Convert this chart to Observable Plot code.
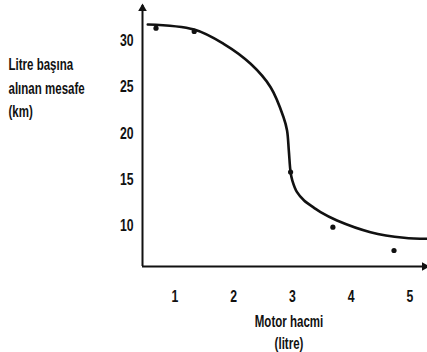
<!DOCTYPE html>
<html>
<head>
<meta charset="utf-8">
<script src="https://cdn.jsdelivr.net/npm/d3@7"></script>
<script src="https://cdn.jsdelivr.net/npm/@observablehq/plot@0.6"></script>
<style>
  html, body { margin: 0; padding: 0; background: #fff; }
  #chart svg { display: block; }
</style>
</head>
<body>
<div id="chart"></div>
<script>
// Fitted curve (engine size in litres vs km per litre)
const curveX = [0.54, 1.33, 1.83, 2.29, 2.63, 2.85, 2.91, 2.94, 2.97, 3.0, 3.08, 3.2, 3.37, 3.48, 3.76, 4.33, 4.9, 5.3];
const curveY = [31.75, 31.2, 29.66, 27.5, 24.97, 21.73, 20.3, 18.13, 15.79, 14.89, 13.63, 12.73, 11.94, 11.47, 10.57, 9.31, 8.7, 8.59];
// Observed points
const pointX = [0.68, 1.33, 2.97, 3.69, 4.73];
const pointY = [31.35, 31.0, 15.8, 9.85, 7.33];
// Ticks
const xTicks = [1, 2, 3, 4, 5];
const yTicks = [10, 15, 20, 25, 30];
// Axis extents
const xDomain = [0.45, 5.3];
const yDomain = [5.6, 33.8];
// Texts
const yTitle = "Litre başına\nalınan mesafe\n(km)";
const xTitle = "Motor hacmi\n(litre)";

const curve = curveX.map((x, i) => ({x, y: curveY[i]}));
const points = pointX.map((x, i) => ({x, y: pointY[i]}));
const font = "'Liberation Sans', Arial, sans-serif";

const chart = Plot.plot({
  width: 427,
  height: 352,
  marginLeft: 142,
  marginRight: 0,
  marginTop: 5,
  marginBottom: 86,
  style: {background: "#fff", color: "#111", fontFamily: font, fontWeight: "bold"},
  x: {domain: xDomain, ticks: xTicks, axis: null},
  y: {domain: yDomain, ticks: yTicks, axis: null},
  marks: [
    Plot.axisX(xTicks, {tickSize: 0, tickPadding: 23, fontSize: 17, label: null}),
    Plot.axisY(yTicks, {tickSize: 0, tickPadding: 9, fontSize: 17, label: null}),
    Plot.ruleX([xDomain[0]], {y1: yDomain[0], y2: yDomain[1], stroke: "#111", strokeWidth: 2}),
    Plot.ruleY([yDomain[0]], {x1: xDomain[0], x2: xDomain[1], stroke: "#111", strokeWidth: 2}),
    Plot.dot([{x: xDomain[0], y: yDomain[1]}], {x: "x", y: "y", symbol: "triangle", r: 3.2, fill: "#111", stroke: "none", dy: 3}),
    Plot.dot([{x: xDomain[1], y: yDomain[0]}], {x: "x", y: "y", symbol: "triangle", r: 3.2, fill: "#111", stroke: "none", rotate: 90, dx: -3}),
    Plot.line(curve, {x: "x", y: "y", curve: "catmull-rom", stroke: "#111", strokeWidth: 2.6}),
    Plot.dot(points, {x: "x", y: "y", r: 2.6, fill: "#111", stroke: "none"}),
    Plot.text([yTitle], {frameAnchor: "top-left", textAnchor: "start", lineAnchor: "top", dx: -134, dy: 48, fontSize: 16, lineHeight: 1.47, fill: "#111"}),
    Plot.text([xTitle], {frameAnchor: "bottom", lineAnchor: "top", dx: 4, dy: 45, fontSize: 16, lineHeight: 1.38, fill: "#111"})
  ]
});
// condense all glyphs horizontally (the reference uses a narrow typeface)
d3.select(chart).selectAll("text").each(function() {
  const t = this.getAttribute("transform") || "";
  this.setAttribute("transform", t + " scale(0.72,1)");
});
document.getElementById("chart").appendChild(chart);
</script>
</body>
</html>
